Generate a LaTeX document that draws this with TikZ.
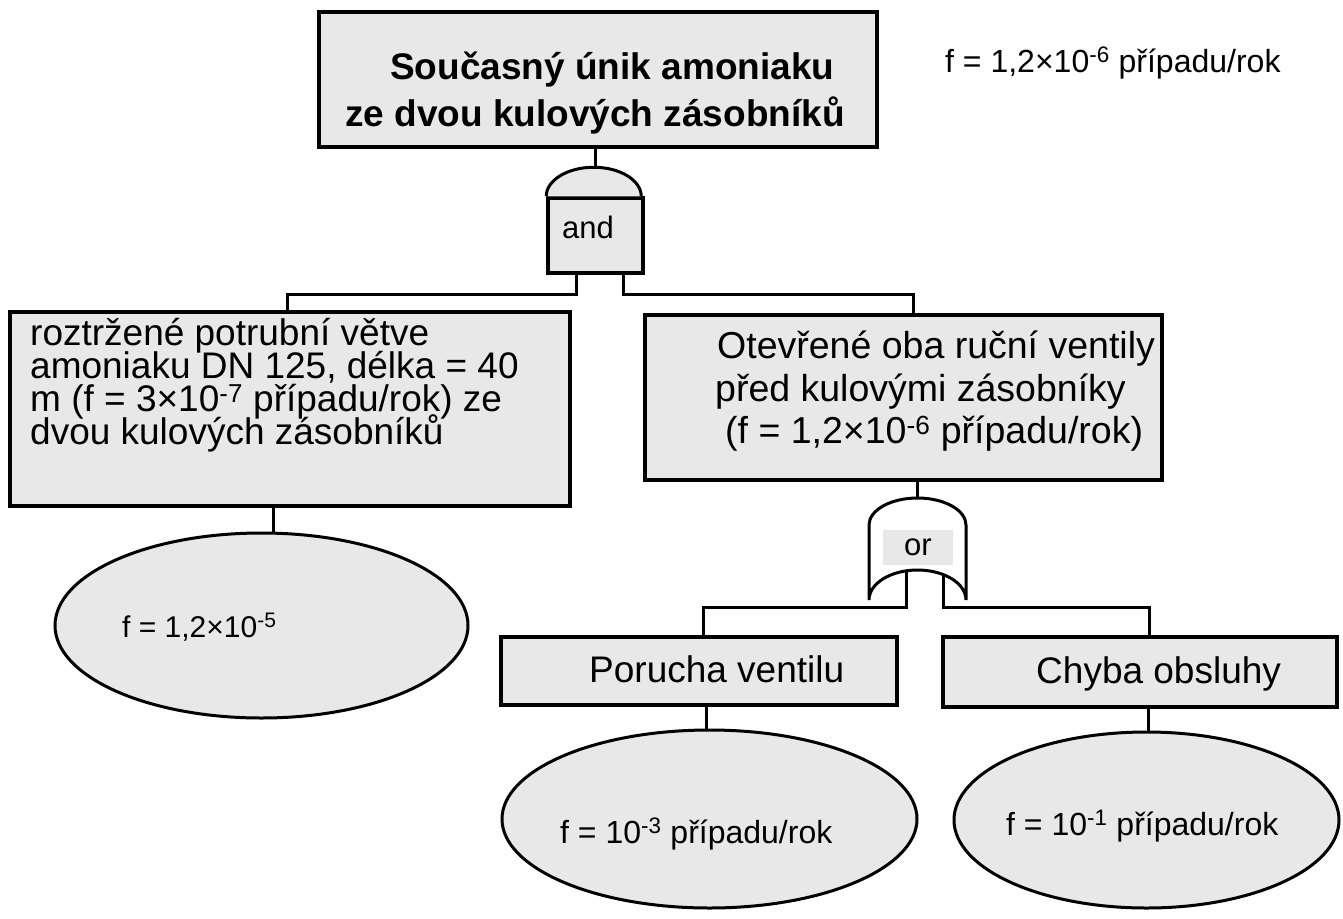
\documentclass[tikz,border=0pt]{standalone}
\usepackage{fontspec}
\setmainfont{Liberation Sans}
\usetikzlibrary{shapes,positioning,calc}
\definecolor{boxgray}{HTML}{E8E8E8}
\newcommand\tightlines{\lineskiplimit=-\maxdimen}
\tikzset{
  evbox/.style={draw,line width=3.5pt,fill=boxgray,inner sep=0pt},
  basic/.style={draw,ellipse,line width=3pt,fill=boxgray,inner sep=0pt},
  wire/.style={line width=3pt},
  txt/.style={inner sep=0pt,align=left,font={\fontsize{37}{33}\selectfont\tightlines}},
  small/.style={inner sep=0pt,font=\fontsize{31}{36}\selectfont},
}

\begin{document}
\begin{tikzpicture}[x=1pt,y=-1pt]
\useasboundingbox (0,0) rectangle (1343,918);

\node[evbox,anchor=north west,minimum width=558pt,minimum height=135pt] (top) at (317,10) {};
\node[txt,anchor=north west,font=\bfseries\fontsize{37}{47}\selectfont] (toptxt) at (345,52) {\hspace*{45pt}Současný únik amoniaku\\ze dvou kulových zásobníků};
\node[small,anchor=base west,font=\fontsize{32}{36}\selectfont] (ftop) at (945,72) {f = 1,2×10\textsuperscript{-6} případu/rok};

% and gate
\node[evbox,minimum width=95pt,minimum height=75pt] (andg) at (595.5,235.5) {};
\node[small] (andtxt) at (588,227) {and};
\coordinate (andtop) at ($(andg.north)+(0,-29)$);
\draw[wire,fill=boxgray] (andg.north west) arc[start angle=180,end angle=0,x radius=47.5pt,y radius=29pt];
\draw[wire] (top.south -| andtop) -- (andtop);
\coordinate (andL) at (576,273);
\coordinate (andR) at (623,273);
\coordinate (ltin) at (287,310);
\coordinate (rtin) at (913,313);
\draw[wire] (andL) -- ++(0,21) -| (ltin);
\draw[wire] (andR) -- ++(0,21) -| (rtin);

\node[evbox,anchor=north west,minimum width=560pt,minimum height=194pt] (leftbox) at (8,310) {};
\node[txt,anchor=north west] (lefttxt) at (30,318) {roztržené potrubní větve\\amoniaku DN 125, délka = 40\\m (f = 3×10\textsuperscript{-7} případu/rok) ze\\dvou kulových zásobníků};
\node[basic,minimum width=413pt,minimum height=185pt] (basic1) at (261.5,625.5) {};
\node[small,anchor=base west,font=\fontsize{30}{36}\selectfont] (basic1txt) at (122,637) {f = 1,2×10\textsuperscript{-5}};
\coordinate (c1) at (273,504);
\draw[wire] (c1) -- (c1 |- basic1.north);

\node[evbox,anchor=north west,minimum width=517pt,minimum height=165pt] (rightbox) at (643,313) {};
\node[txt,anchor=north west,font=\fontsize{37.5}{42.5}\selectfont] (righttxt) at (715,331) {\hspace*{2pt}Otevřené oba ruční ventily\\před kulovými zásobníky\\\hspace*{10pt}(f = 1,2×10\textsuperscript{-6} případu/rok)};

% or gate
\coordinate (ortop) at (917.5,498);
\draw[wire,fill=white] (869,600) -- (869,525) arc[start angle=180,end angle=0,x radius=48.5pt,y radius=27pt]
  -- (966,600) arc[start angle=0,end angle=180,x radius=48.5pt,y radius=30pt] -- cycle;
\node[small,fill=boxgray,minimum width=70pt,minimum height=35pt] (orlbl) at (918,547.5) {or};
\draw[wire] (rightbox.south -| ortop) -- (ortop);
\coordinate (orL) at (906,572);
\coordinate (orR) at (943,575);
\coordinate (poin) at (703,635);
\coordinate (chin) at (1149,635);
\draw[wire] (orL) -- ++(0,35) -| (poin);
\draw[wire] (orR) -- ++(0,32) -| (chin);

\node[evbox,anchor=north west,minimum width=396pt,minimum height=68pt] (porucha) at (499,635) {};
\node[txt,anchor=base west,font=\fontsize{37}{40}\selectfont] (poruchatxt) at (589,682) {Porucha ventilu};
\node[evbox,anchor=north west,minimum width=394pt,minimum height=70pt] (chyba) at (941,635) {};
\node[txt,anchor=base west,font=\fontsize{37}{40}\selectfont] (chybatxt) at (1036,683) {Chyba obsluhy};

\node[basic,minimum width=415pt,minimum height=178pt] (basic2) at (709.5,819) {};
\node[small,anchor=base west,font=\fontsize{32}{36}\selectfont] (basic2txt) at (560,843) {f = 10\textsuperscript{-3} případu/rok};
\node[basic,minimum width=385pt,minimum height=176pt] (basic3) at (1146.5,820) {};
\node[small,anchor=base west,font=\fontsize{32}{36}\selectfont] (basic3txt) at (1006,835) {f = 10\textsuperscript{-1} případu/rok};
\coordinate (c2) at (706,703);
\draw[wire] (c2) -- (c2 |- basic2.north);
\coordinate (c3) at (1148,705);
\draw[wire] (c3) -- (c3 |- basic3.north);
\end{tikzpicture}
\end{document}
